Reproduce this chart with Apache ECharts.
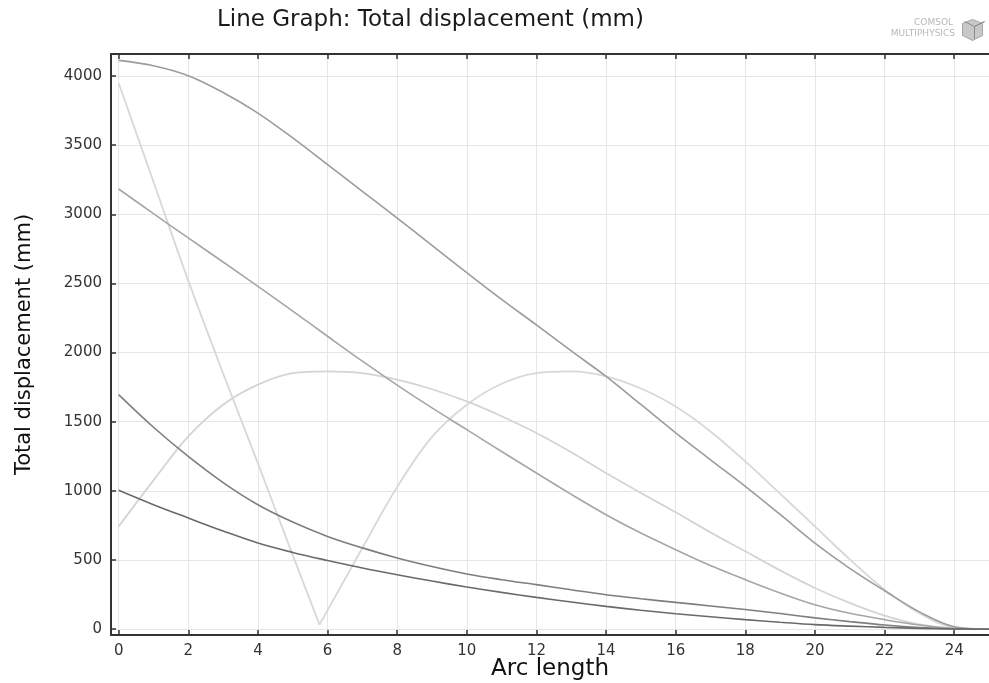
<!DOCTYPE html>
<html>
<head>
<meta charset="utf-8">
<script src="https://cdn.jsdelivr.net/npm/echarts@6/dist/echarts.min.js"></script>
<style>html,body{margin:0;padding:0;background:#fff}#c{width:989px;height:683px}</style>
</head>
<body>
<div id="c"></div>
<script>
// Arc length sample positions
var arcLength = [0,1,2,3,4,5,6,7,8,9,10,11,12,13,14,15,16,17,18,19,20,21,22,23,24,25];
var arcLengthBLeft = [0,1,2,3,4,5,5.77];
var arcLengthBRight = [5.77,7,8,9,10,11,12,13,14,15,16,17,18,19,20,21,22,23,24,25];

// Total displacement (mm) per curve
var dispA = [4113,4074,4002,3881,3732,3552,3359,3166,2973,2775,2578,2385,2200,2012,1828,1625,1420,1225,1033,830,623,440,278,125,18,0];
var dispBLeft = [3949,3235,2520,1850,1199,536,33];
var dispBRight = [33,587,1028,1390,1623,1775,1852,1864,1828,1740,1610,1430,1213,980,743,505,286,115,12,0];
var dispC = [743,1076,1394,1623,1768,1852,1864,1852,1804,1735,1647,1540,1419,1280,1129,985,845,700,563,425,298,190,98,35,5,0];
var dispD = [3183,3005,2829,2655,2479,2300,2118,1938,1765,1600,1443,1285,1129,975,828,695,575,460,358,262,177,115,69,30,5,0];
var dispE = [1696,1460,1249,1060,900,775,671,588,515,453,399,358,322,285,249,220,194,168,142,113,82,55,30,12,3,0];
var dispF = [1004,900,804,710,623,555,497,443,394,348,305,266,230,197,165,137,112,90,69,50,33,22,13,6,2,0];

// Tick labels
var xTicks = [0,2,4,6,8,10,12,14,16,18,20,22,24];
var yTicks = [0,500,1000,1500,2000,2500,3000,3500,4000];

function pairs(xs, ys){ return xs.map(function(x,i){ return [x, ys[i]]; }); }

var font = 'DejaVu Sans';
var chart = echarts.init(document.getElementById('c'), null, {renderer:'canvas'});

function mk(name, xs, ys, color, w, sm){
  return {
    name: name, type: 'line', data: pairs(xs, ys), smooth: sm,
    showSymbol: false, symbol: 'none', animation: false,
    lineStyle: {color: color, width: w || 1.6},
    xAxisIndex: 0, yAxisIndex: 0
  };
}

chart.setOption({
  backgroundColor: '#ffffff',
  animation: false,
  title: {
    text: 'Line Graph: Total displacement (mm)',
    left: 212, top: 4,
    textStyle: {fontFamily: font, fontSize: 23, fontWeight: 'normal', color: '#1a1a1a'}
  },
  graphic: [
    {type:'text', right: 36, top: 18, style:{text:'COMSOL', fontFamily: font, fontSize: 9, fill:'#b8b8b8', textAlign:'right'}},
    {type:'text', right: 34, top: 29, style:{text:'MULTIPHYSICS', fontFamily: font, fontSize: 9, fill:'#b8b8b8', textAlign:'right'}},
    {type:'polygon', left: 962, top: 19, shape:{points:[[0,4],[10,0],[20,4],[20,16],[10,21],[0,16]]}, style:{fill:'#c8c8c8', stroke:'#a8a8a8', lineWidth:1}},
    {type:'polyline', left: 962, top: 19, shape:{points:[[0,4],[10,9],[20,4],[10,9],[10,21]]}, style:{stroke:'#8a8a8a', lineWidth:1, fill:null}}
  ],
  grid: {left: 111, top: 54, right: 0, bottom: 48, containLabel: false, outerBoundsMode: 'none'},
  xAxis: [{
    type: 'value', min: -0.22, max: 25, position: 'bottom',
    name: 'Arc length', nameLocation: 'middle', nameGap: 23, nameMoveOverlap: false,
    nameTextStyle: {fontFamily: font, fontSize: 23, color: '#111'},
    axisLine: {show: true, onZero: false, lineStyle: {color: '#333', width: 2}},
    axisTick: {show: true, inside: true, length: 5, customValues: xTicks, lineStyle: {color: '#333', width: 1.5}},
    axisLabel: {customValues: xTicks, fontFamily: font, fontSize: 15, color: '#333', margin: 9},
    splitLine: {show: true, lineStyle: {color: '#e6e6e6', width: 1}}
  }, {
    type: 'value', min: -0.22, max: 25, position: 'top',
    axisLine: {show: true, onZero: false, lineStyle: {color: '#333', width: 2}},
    axisTick: {show: true, inside: true, length: 5, customValues: xTicks, lineStyle: {color: '#333', width: 1.5}},
    axisLabel: {show: false},
    splitLine: {show: false}
  }],
  yAxis: [{
    type: 'value', min: -42, max: 4159,
    name: 'Total displacement (mm)', nameLocation: 'middle', nameGap: 76,
    nameTextStyle: {fontFamily: font, fontSize: 21, color: '#111'},
    axisLine: {show: true, onZero: false, lineStyle: {color: '#333', width: 2}},
    axisTick: {show: true, inside: true, length: 5, customValues: yTicks, lineStyle: {color: '#333', width: 1.5}},
    axisLabel: {customValues: yTicks, fontFamily: font, fontSize: 15, color: '#333', margin: 9,
      formatter: function(v){ return String(v); }},
    splitLine: {show: true, lineStyle: {color: '#e6e6e6', width: 1}}
  }],
  series: [
    mk('C', arcLength, dispC, '#d4d4d4', 1.8, 0.35),
    mk('B', arcLengthBLeft, dispBLeft, '#d8d8d8', 1.8, 0.35),
    mk('B2', arcLengthBRight, dispBRight, '#d8d8d8', 1.8, 0.35),
    mk('D', arcLength, dispD, '#a6a6a6', 1.6, 0.35),
    mk('A', arcLength, dispA, '#9c9c9c', 1.6, 0.35),
    mk('E', arcLength, dispE, '#7e7e7e', 1.6, 0.35),
    mk('F', arcLength, dispF, '#6a6a6a', 1.6, 0.35)
  ]
});
</script>
</body>
</html>
